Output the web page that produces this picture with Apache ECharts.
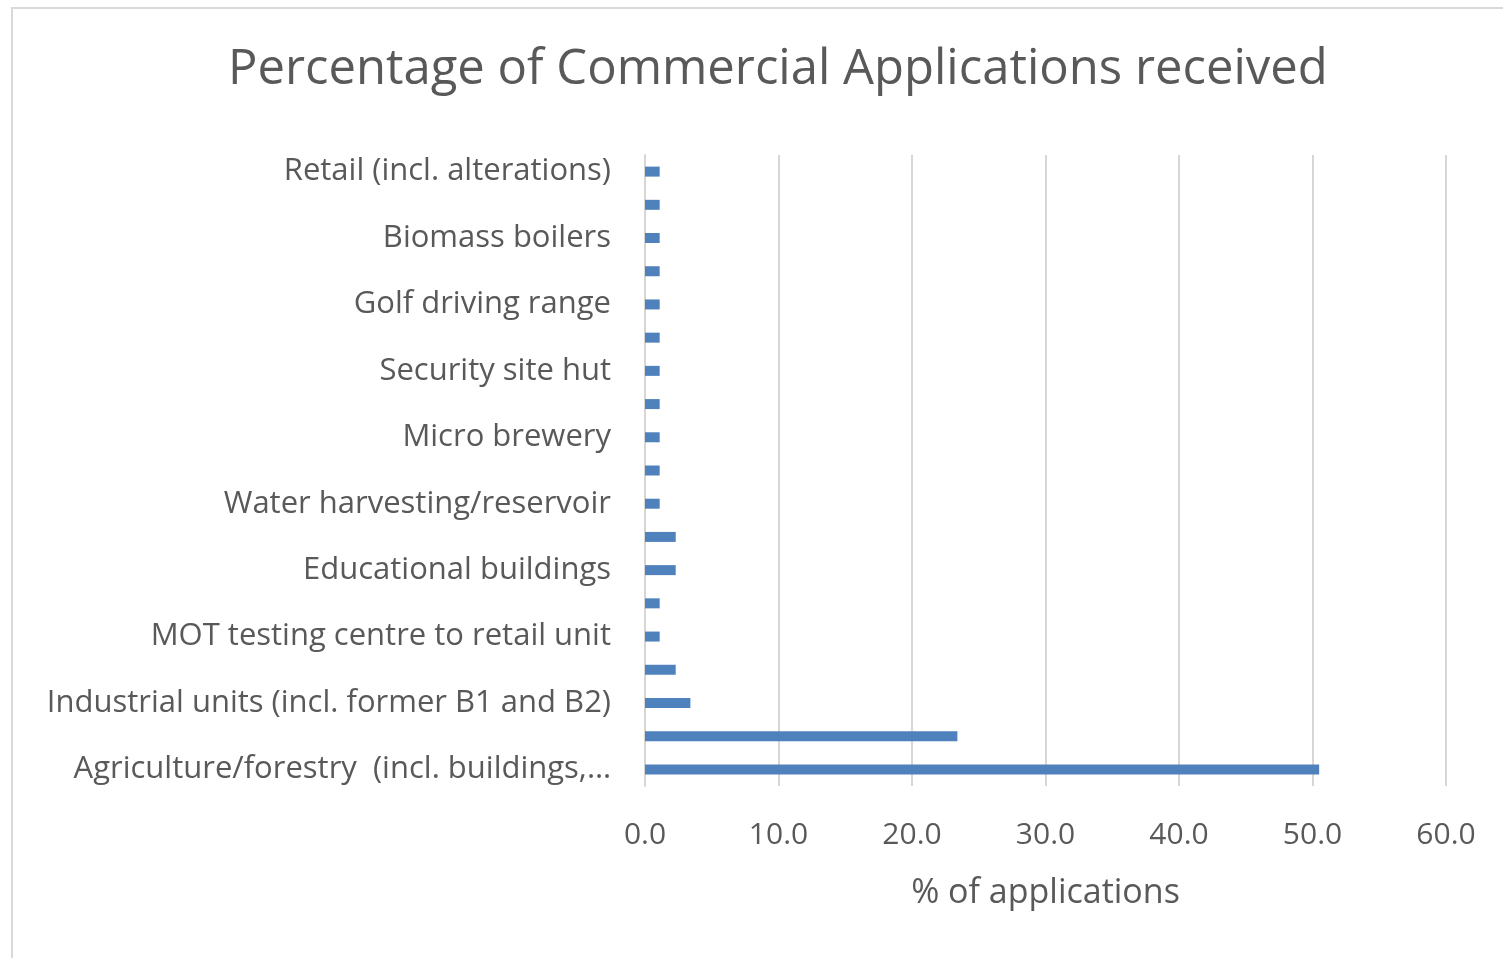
<!DOCTYPE html>
<html>
<head>
<meta charset="utf-8">
<script src="https://cdn.jsdelivr.net/npm/echarts@6/dist/echarts.min.js"></script>
<style>
  html, body { margin: 0; padding: 0; background: #ffffff; }
  #chart { width: 1503px; height: 958px; }
</style>
</head>
<body>
<div id="chart"></div>
<script>
// Categories listed bottom to top (category axis index 0 sits at the bottom)
const categories = [
  "Agriculture/forestry  (incl. buildings,\u2026",
  "Change of use (commercial)",
  "Industrial units (incl. former B1 and B2)",
  "Offices",
  "MOT testing centre to retail unit",
  "Telecommunications",
  "Educational buildings",
  "Tourism accommodation",
  "Water harvesting/reservoir",
  "Storage and distribution",
  "Micro brewery",
  "Car park",
  "Security site hut",
  "Farm shop",
  "Golf driving range",
  "Equestrian facilities",
  "Biomass boilers",
  "Signage/advertisements",
  "Retail (incl. alterations)"
];

// % of applications for each category, same order
const percentValues = [
  50.5, 23.4, 3.4, 2.3, 1.1, 1.1, 2.3, 2.3, 1.1, 1.1,
  1.1, 1.1, 1.1, 1.1, 1.1, 1.1, 1.1, 1.1, 1.1
];

const xTicks = { min: 0, max: 60, step: 10 };

const textColor = "#595959";
const gridColor = "#d9d5d0";
const fontFamily = "'Open Sans', Lato, sans-serif";

const chart = echarts.init(document.getElementById("chart"));

chart.setOption({
  backgroundColor: "#ffffff",
  textStyle: { fontFamily: fontFamily },
  graphic: [{
    type: "rect",
    shape: { x: 12, y: 8, width: 1500, height: 960 },
    style: { fill: "none", stroke: "#d9d9d9", lineWidth: 2 },
    silent: true
  }],
  title: {
    text: "Percentage of Commercial Applications received",
    left: 223,
    top: 41,
    textStyle: { fontSize: 49, fontWeight: "normal", color: textColor, fontFamily: fontFamily }
  },
  grid: { left: 645, right: 57, top: 155, bottom: 172, containLabel: false },
  xAxis: {
    type: "value",
    min: xTicks.min,
    max: xTicks.max,
    interval: xTicks.step,
    axisLine: { show: false },
    axisTick: { show: false },
    splitLine: { lineStyle: { color: gridColor, width: 2 } },
    axisLabel: {
      formatter: v => v.toFixed(1),
      fontSize: 30,
      color: textColor,
      margin: 34
    },
    name: "% of applications",
    nameLocation: "middle",
    nameGap: 90,
    nameTextStyle: { fontSize: 34, color: textColor }
  },
  yAxis: {
    type: "category",
    data: categories,
    axisLine: { show: true, lineStyle: { color: gridColor, width: 2 } },
    axisTick: { show: false },
    axisLabel: {
      interval: 1,
      fontSize: 31,
      color: textColor,
      margin: 34
    }
  },
  series: [{
    type: "bar",
    data: percentValues,
    barWidth: 10,
    itemStyle: { color: "#4f81bd" },
    animation: false
  }]
});
</script>
</body>
</html>
